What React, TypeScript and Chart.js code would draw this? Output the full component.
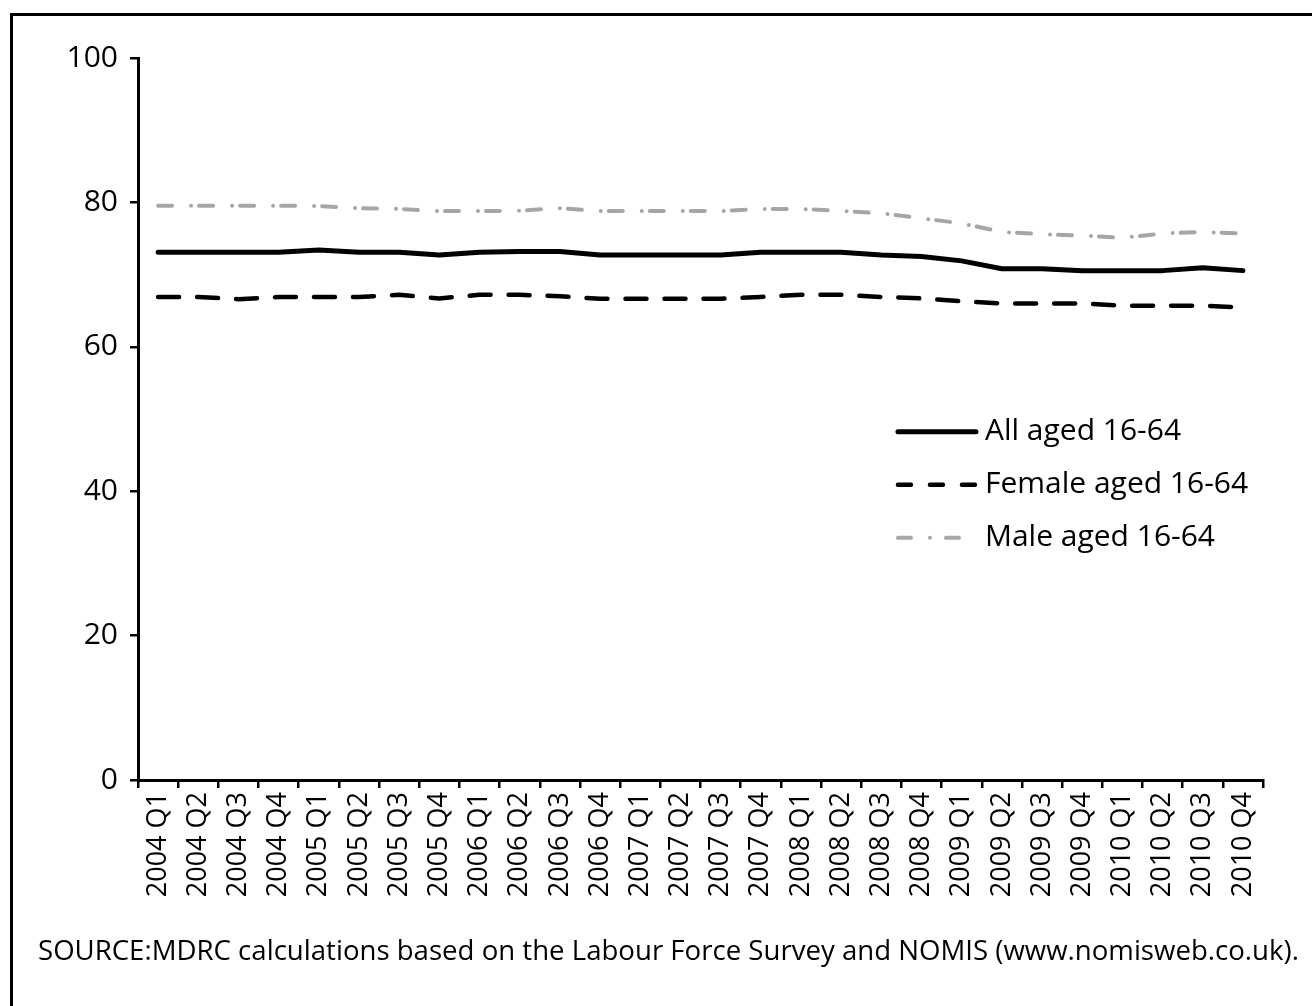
import React, { useEffect, useRef } from 'react';
import { Chart, registerables } from 'chart.js';

Chart.register(...registerables);

const categories = [
  '2004 Q1', '2004 Q2', '2004 Q3', '2004 Q4',
  '2005 Q1', '2005 Q2', '2005 Q3', '2005 Q4',
  '2006 Q1', '2006 Q2', '2006 Q3', '2006 Q4',
  '2007 Q1', '2007 Q2', '2007 Q3', '2007 Q4',
  '2008 Q1', '2008 Q2', '2008 Q3', '2008 Q4',
  '2009 Q1', '2009 Q2', '2009 Q3', '2009 Q4',
  '2010 Q1', '2010 Q2', '2010 Q3', '2010 Q4',
];

const allAged = [
  73.1, 73.1, 73.1, 73.1,
  73.4, 73.1, 73.1, 72.7,
  73.1, 73.2, 73.2, 72.7,
  72.7, 72.7, 72.7, 73.1,
  73.1, 73.1, 72.7, 72.5,
  71.9, 70.8, 70.8, 70.55,
  70.55, 70.55, 70.95, 70.55,
];

const femaleAged = [
  66.9, 66.9, 66.6, 66.9,
  66.9, 66.9, 67.2, 66.7,
  67.2, 67.2, 67.0, 66.65,
  66.65, 66.65, 66.65, 66.9,
  67.2, 67.2, 66.9, 66.7,
  66.3, 66.0, 66.0, 66.0,
  65.7, 65.7, 65.7, 65.45,
];

const maleAged = [
  79.55, 79.55, 79.55, 79.55,
  79.5, 79.2, 79.1, 78.8,
  78.8, 78.85, 79.2, 78.8,
  78.8, 78.8, 78.8, 79.1,
  79.1, 78.8, 78.5, 77.8,
  77.1, 75.9, 75.6, 75.4,
  75.1, 75.7, 75.9, 75.7,
];

const seriesLabels = ['All aged 16-64', 'Female aged 16-64', 'Male aged 16-64'];
const yMin = 0;
const yMax = 100;
const yStep = 20;

const sourceText =
  'SOURCE:MDRC calculations based on the Labour Force Survey and NOMIS (www.nomisweb.co.uk).';

const FONT = '"Open Sans", sans-serif';
const GREY = '#a6a6a6';

export default function App() {
  const canvasRef = useRef<HTMLCanvasElement | null>(null);

  useEffect(() => {
    const canvas = canvasRef.current;
    if (!canvas) return;

    const legendStyles = [
      { color: '#000', width: 5, dash: [] as number[] },
      { color: '#000', width: 4.5, dash: [13, 19] },
      { color: GREY, width: 4, dash: [13, 19, 0, 16] },
    ];

    const insideLegend = {
      id: 'insideLegend',
      afterDraw(chart: any) {
        const { ctx, chartArea } = chart;
        const w = chartArea.right - chartArea.left;
        const h = chartArea.bottom - chartArea.top;
        const x0 = chartArea.left + w * 0.6755;
        const x1 = x0 + 80;
        const yStart = chartArea.top + h * 0.5175;
        const gap = 53;
        ctx.save();
        ctx.font = `30px ${FONT}`;
        ctx.textBaseline = 'middle';
        ctx.textAlign = 'left';
        seriesLabels.forEach((label, i) => {
          const y = yStart + i * gap;
          const st = legendStyles[i];
          ctx.beginPath();
          ctx.strokeStyle = st.color;
          ctx.lineWidth = st.width;
          ctx.lineCap = 'round';
          ctx.setLineDash(st.dash);
          ctx.moveTo(x0, y);
          ctx.lineTo(x1 - 2, y);
          ctx.stroke();
          ctx.setLineDash([]);
          ctx.fillStyle = '#000';
          ctx.fillText(label, x1 + 7, y);
        });
        ctx.restore();
      },
    };

    const chart = new Chart(canvas, {
      type: 'line',
      data: {
        labels: categories,
        datasets: [
          {
            label: seriesLabels[0],
            data: allAged,
            borderColor: '#000',
            borderWidth: 5,
            pointRadius: 0,
            tension: 0,
            borderCapStyle: 'round',
            borderJoinStyle: 'round',
          },
          {
            label: seriesLabels[1],
            data: femaleAged,
            borderColor: '#000',
            borderWidth: 4.5,
            borderDash: [21, 18],
            pointRadius: 0,
            tension: 0,
            borderCapStyle: 'round',
            borderJoinStyle: 'round',
          },
          {
            label: seriesLabels[2],
            data: maleAged,
            borderColor: GREY,
            borderWidth: 4,
            borderDash: [14, 19, 0, 8],
            pointRadius: 0,
            tension: 0,
            borderCapStyle: 'round',
            borderJoinStyle: 'round',
          },
        ],
      },
      options: {
        responsive: false,
        animation: false,
        devicePixelRatio: 1,
        layout: { padding: { left: 0, top: 58, right: 49, bottom: 0 } },
        plugins: {
          legend: { display: false },
          tooltip: { enabled: false },
          title: { display: false },
        },
        scales: {
          x: {
            type: 'category',
            offset: true,
            grid: {
              offset: true,
              drawOnChartArea: false,
              drawTicks: true,
              tickLength: 8,
              color: '#000',
              lineWidth: 2.5,
            },
            border: { display: true, color: '#000', width: 3 },
            ticks: {
              autoSkip: false,
              minRotation: 90,
              maxRotation: 90,
              padding: 4,
              color: '#000',
              font: { family: FONT, size: 27 },
            },
            afterFit(scale: any) {
              scale.height = 1006 - 780;
            },
          },
          y: {
            min: yMin,
            max: yMax,
            grid: {
              drawOnChartArea: false,
              drawTicks: true,
              tickLength: 8,
              color: '#000',
              lineWidth: 2.5,
            },
            border: { display: true, color: '#000', width: 3 },
            ticks: {
              stepSize: yStep,
              padding: 12,
              color: '#000',
              font: { family: FONT, size: 30 },
            },
            afterFit(scale: any) {
              scale.width = 138;
            },
          },
        },
      },
      plugins: [insideLegend],
    } as any);

    return () => chart.destroy();
  }, []);

  return (
    <div
      style={{
        position: 'absolute',
        left: 0,
        top: 0,
        width: 1312,
        height: 1006,
        overflow: 'hidden',
        background: '#fff',
      }}
    >
      <div
        style={{
          position: 'absolute',
          left: 10,
          top: 13,
          width: 1400,
          height: 1100,
          borderLeft: '3px solid #000',
          borderTop: '3px solid #000',
          boxSizing: 'border-box',
        }}
      />
      <canvas
        ref={canvasRef}
        width={1312}
        height={1006}
        style={{ position: 'absolute', left: 0, top: 0, display: 'block' }}
      />
      <div
        style={{
          position: 'absolute',
          left: 38,
          top: 931,
          fontFamily: FONT,
          fontSize: 27.6,
          lineHeight: '36px',
          color: '#000',
          whiteSpace: 'nowrap',
        }}
      >
        {sourceText}
      </div>
    </div>
  );
}
